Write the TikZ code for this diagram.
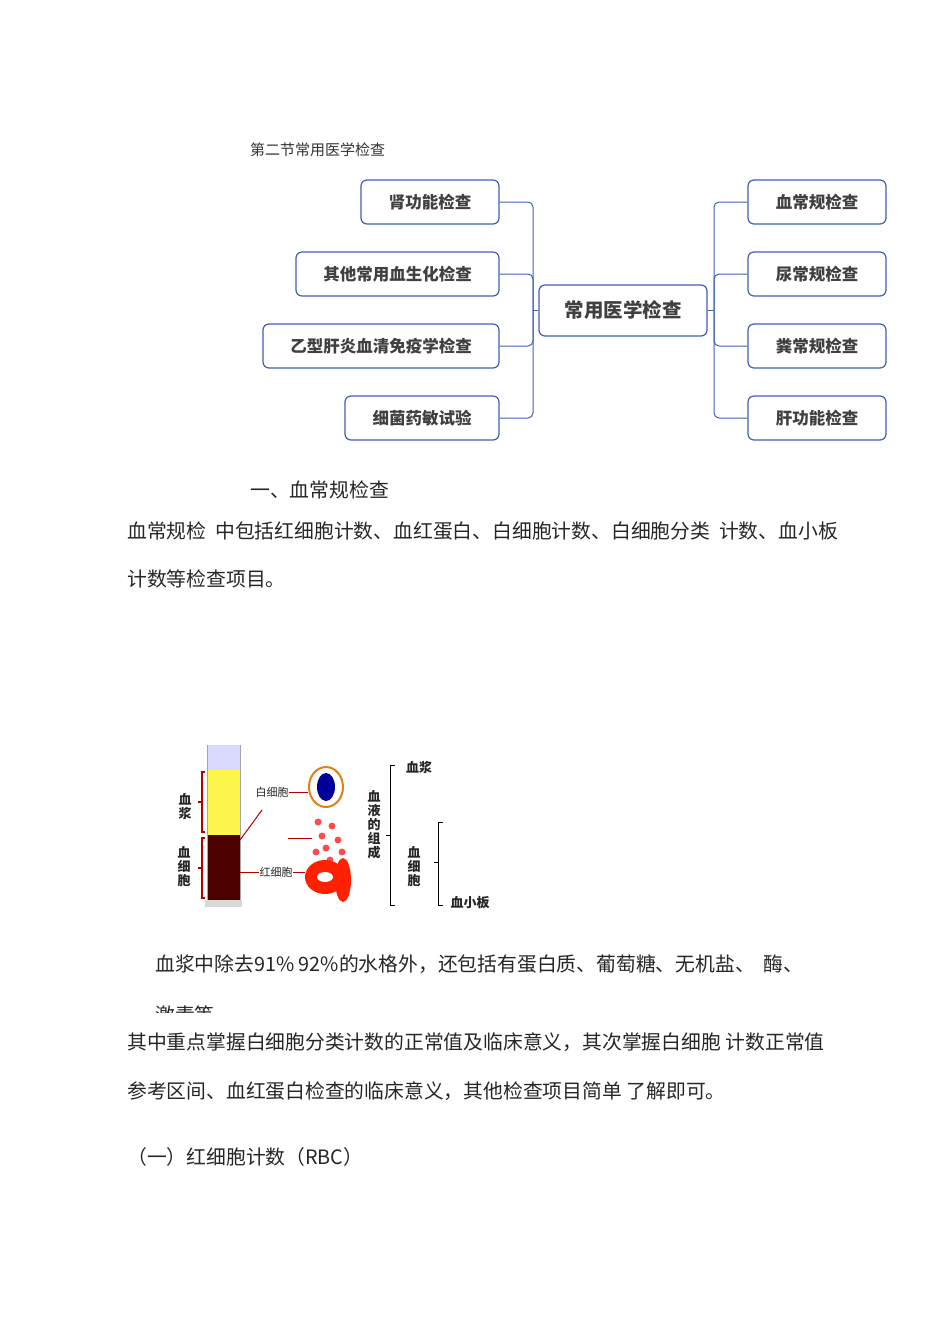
\documentclass[tikz,border=0pt]{standalone}
\usepackage{fontspec}
\setmainfont{Noto Sans CJK SC}
\definecolor{bl}{HTML}{3F5FB0}
\begin{document}
\begin{tikzpicture}[x=1pt,y=-1pt,
  box/.style={draw=bl,line width=1.2pt,rounded corners=6pt,inner sep=0pt,font=\fontsize{16.5}{16}\selectfont\bfseries,text=black!75},
  bus/.style={draw=bl,line width=1pt,rounded corners=5pt},
  body/.style={anchor=west,inner sep=0pt,font=\fontsize{19.8}{20}\selectfont,text=black!85},
  lab/.style={inner sep=0pt,font=\fontsize{13}{14}\selectfont\bfseries,text=black!85}]
\useasboundingbox (0,0) rectangle (950,1318);
\node[anchor=west,inner sep=0pt,font=\fontsize{15}{15}\selectfont,text=black!80] (title) at (250,150) {第二节常用医学检查};
% mind map
\node[box,minimum width=168pt,minimum height=51pt] (c) at (623,310.5) {\fontsize{19.5}{19}\selectfont 常用医学检查};
\node[box,minimum width=138pt,minimum height=44pt] (l1) at (430,202) {肾功能检查};
\node[box,minimum width=203pt,minimum height=44pt] (l2) at (397.5,274) {其他常用血生化检查};
\node[box,minimum width=236pt,minimum height=44pt] (l3) at (381,346) {乙型肝炎血清免疫学检查};
\node[box,minimum width=154pt,minimum height=44pt] (l4) at (422,418) {细菌药敏试验};
\node[box,minimum width=138pt,minimum height=44pt] (r1) at (817,202) {血常规检查};
\node[box,minimum width=138pt,minimum height=44pt] (r2) at (817,274) {尿常规检查};
\node[box,minimum width=138pt,minimum height=44pt] (r3) at (817,346) {粪常规检查};
\node[box,minimum width=138pt,minimum height=44pt] (r4) at (817,418) {肝功能检查};
\coordinate (lb) at (533,310.5);
\coordinate (rb) at (714,310.5);
\draw[bus] (c.west) -- (lb);
\draw[bus] (c.east) -- (rb);
\foreach \n in {l1,l2,l3,l4} \draw[bus] (\n.east) -| (lb);
\foreach \n in {r1,r2,r3,r4} \draw[bus] (\n.west) -| (rb);
% text
\node[body] (h1) at (250,490) {一、血常规检查};
\node[body] (p1) at (127,531) {血常规检\ \ 中包括红细胞计数、血红蛋白、白细胞计数、白细胞分类\ \ 计数、血小板};
\node[body] (p2) at (127,579) {计数等检查项目。};
% blood figure
\fill[blue!15] (207,745) rectangle (240,770);
\fill[yellow!70] (207,770) rectangle (240,835);
\fill[red!30!black] (207,835) rectangle (240,900);
\draw[gray!70,line width=1pt] (207,745) -- (207,900) (240,745) -- (240,900);
\fill[gray!30] (205,900) rectangle (242,907);
\draw[red!70!black,line width=1.2pt] (205,772) -- (202,772) -- (202,832) -- (205,832) (202,802) -- (198,802);
\draw[red!70!black,line width=1.2pt] (205,838) -- (202,838) -- (202,898) -- (205,898) (202,868) -- (198,868);
\node[lab,align=center] (pl) at (185,807) {血\\浆};
\node[lab,align=center] (bc) at (184,867) {血\\细\\胞};
\node[lab,font=\fontsize{11}{11}\selectfont] (wbc) at (272,792) {白细胞};
\node[lab,font=\fontsize{11}{11}\selectfont] (rbc) at (276,872) {红细胞};
\draw[red!70!black,line width=1pt] (wbc.east) -- (308,792);
\draw[red!70!black,line width=1pt] (rbc.east) -- (305,872);
\draw[red!70!black,line width=1pt] (rbc.west) -- (240,872);
\draw[red!70!black,line width=1pt] (240,840) -- (262,810);
\draw[red!70!black,line width=1pt] (288,838) -- (312,838);
\draw[orange!60!brown,line width=2pt,fill=white] (326,787) ellipse (17 and 20);
\fill[blue!60!black] (326,787) ellipse (9 and 14);
\foreach \p in {(318,822),(332,826),(322,836),(338,840),(326,848),(316,852),(342,852),(330,860)} \fill[red!70] \p circle (3.5);
\fill[red!75!orange] (325,877) ellipse (20 and 17);
\fill[white] (325,877) ellipse (8 and 5);
\fill[red!75!orange] (343,880) ellipse (8 and 22);
% bracket diagram
\draw[line width=1pt] (395,765) -- (390,765) -- (390,905) -- (395,905) (390,835) -- (386,835);
\draw[line width=1pt] (443,822) -- (438,822) -- (438,905) -- (443,905) (438,862) -- (434,862);
\node[lab,align=center] (bl) at (374,825) {血\\液\\的\\组\\成};
\node[lab] (bpl) at (419,767) {血浆};
\node[lab,align=center] (bbc) at (414,867) {血\\细\\胞};
\node[lab] (bpt) at (470,903) {血小板};
% remaining text
\node[body] (p3) at (155,964) {血浆中除去91\% 92\%的水格外，还包括有蛋白质、葡萄糖、无机盐、\ \ 酶、};
\begin{scope}
\clip (127,990) rectangle (300,1012);
\node[body] (p4) at (155,1015) {激素等};
\end{scope}
\node[body] (p5) at (127,1042) {其中重点掌握白细胞分类计数的正常值及临床意义，其次掌握白细胞\ 计数正常值};
\node[body] (p6) at (127,1091) {参考区间、血红蛋白检查的临床意义，其他检查项目简单\ 了解即可。};
\node[body] (p7) at (127,1157) {（一）红细胞计数（RBC）};
\end{tikzpicture}
\end{document}
